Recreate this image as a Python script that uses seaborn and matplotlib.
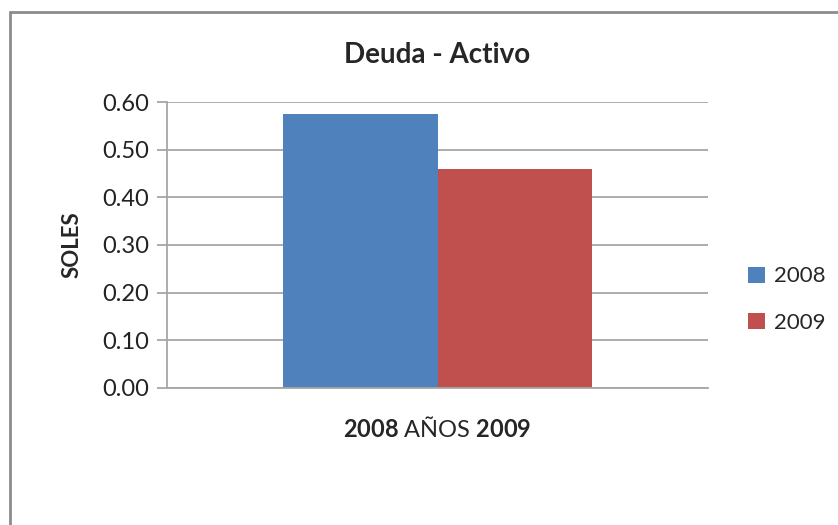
import pandas as pd
import matplotlib.pyplot as plt
import seaborn as sns
from matplotlib.lines import Line2D

# datos
anios = ['2008', '2009']
valores = [0.575, 0.46]
categoria = ['Deuda - Activo', 'Deuda - Activo']
colores = ['#4F81BD', '#C0504D']
yticks = [0.0, 0.1, 0.2, 0.3, 0.4, 0.5, 0.6]

df = pd.DataFrame({'cat': categoria, 'anio': anios, 'valor': valores})

sns.set_style('white')
plt.rcParams['font.family'] = ['Lato', 'DejaVu Sans']
plt.rcParams['mathtext.fontset'] = 'custom'
plt.rcParams['mathtext.rm'] = 'Lato'
plt.rcParams['mathtext.bf'] = 'Lato:bold'

fig = plt.figure(figsize=(8.38, 5.25), dpi=100)
ax = fig.add_axes([0.1993, 0.261, 0.6456, 0.5447])

sns.barplot(data=df, x='cat', y='valor', hue='anio', palette=colores,
            width=0.57, saturation=1, linewidth=0, ax=ax)

ax.set_ylim(0, 0.6)
ax.set_yticks(yticks)
ax.set_yticklabels([f'{v:.2f}' for v in yticks], fontsize=17, color='#222222')
ax.set_xticks([])
ax.set_xlim(-0.5, 0.5)
ax.grid(axis='y', color='#A6A6A6', linewidth=1.3)
ax.set_axisbelow(True)
for s in ['top', 'right']:
    ax.spines[s].set_visible(False)
for s in ['left', 'bottom']:
    ax.spines[s].set_color('#A6A6A6')
    ax.spines[s].set_linewidth(1.3)
ax.tick_params(axis='y', left=True, length=7, color='#A6A6A6', width=1.3, pad=6)

ax.set_title('Deuda - Activo', fontsize=20, fontweight='bold', pad=28)
ax.set_ylabel('SOLES', fontsize=16, fontweight='bold', labelpad=14)
ax.set_xlabel(r'$\mathbf{2008}$ AÑOS $\mathbf{2009}$', fontsize=17, labelpad=20)

ax.legend(loc='center left', bbox_to_anchor=(0.893, 0.429), bbox_transform=fig.transFigure,
          frameon=False, fontsize=16, handlelength=0.75, handleheight=0.75,
          labelspacing=1.2, handletextpad=0.4, borderpad=0, borderaxespad=0)

# marco del grafico
fig.add_artist(Line2D([10/838, 10/838], [0, 1 - 12/525], color='#8C8C8C', linewidth=2))
fig.add_artist(Line2D([10/838, 1], [1 - 12/525, 1 - 12/525], color='#8C8C8C', linewidth=2))

plt.savefig('out.png', dpi=100)
